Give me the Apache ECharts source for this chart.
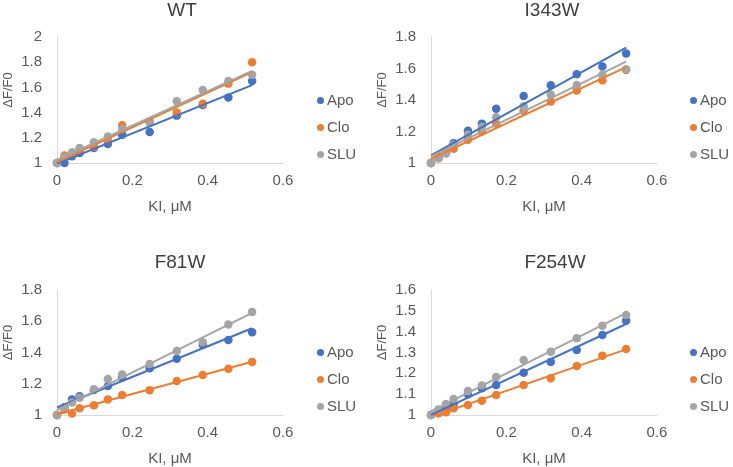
<!DOCTYPE html>
<html><head><meta charset="utf-8">
<script src="https://cdn.jsdelivr.net/npm/echarts@6/dist/echarts.min.js"></script>
<style>html,body{margin:0;padding:0;background:#fff}#c{width:733px;height:467px}</style>
</head><body><div id="c"></div>
<script>
// ---- data ----
const kiConc = [0, 0.02, 0.04, 0.06, 0.098, 0.135, 0.173, 0.246, 0.318, 0.387, 0.455, 0.518];
const seriesNames = ['Apo', 'Clo', 'SLU'];
const panelTitles = ['WT', 'I343W', 'F81W', 'F254W'];

const wtApo  = [1.0, 1.0, 1.053, 1.08, 1.12, 1.15, 1.225, 1.246, 1.376, 1.46, 1.52, 1.65];
const wtClo  = [1.0, 1.06, 1.07, 1.10, 1.13, 1.18, 1.30, 1.33, 1.40, 1.47, 1.63, 1.80];
const wtSlu  = [1.0, 1.045, 1.085, 1.12, 1.165, 1.21, 1.27, 1.32, 1.49, 1.58, 1.65, 1.70];

const i343Apo = [1.0, 1.04, 1.067, 1.126, 1.204, 1.25, 1.345, 1.425, 1.493, 1.564, 1.612, 1.695];
const i343Clo = [1.0, 1.03, 1.063, 1.09, 1.147, 1.20, 1.25, 1.33, 1.39, 1.46, 1.525, 1.59];
const i343Slu = [1.0, 1.03, 1.06, 1.116, 1.18, 1.23, 1.29, 1.36, 1.435, 1.495, 1.56, 1.595];

const f81Apo = [1.0, 1.05, 1.10, 1.12, 1.16, 1.185, 1.24, 1.30, 1.36, 1.45, 1.48, 1.53];
const f81Clo = [1.0, 1.035, 1.01, 1.043, 1.062, 1.10, 1.128, 1.158, 1.217, 1.256, 1.296, 1.34];
const f81Slu = [1.0, 1.047, 1.08, 1.11, 1.165, 1.23, 1.26, 1.326, 1.41, 1.465, 1.58, 1.66];

const f254Apo = [1.0, 1.01, 1.03, 1.05, 1.10, 1.128, 1.144, 1.203, 1.255, 1.312, 1.384, 1.452];
const f254Clo = [1.0, 1.008, 1.013, 1.032, 1.048, 1.069, 1.096, 1.144, 1.176, 1.235, 1.285, 1.317];
const f254Slu = [1.0, 1.027, 1.053, 1.077, 1.115, 1.142, 1.183, 1.264, 1.304, 1.368, 1.429, 1.48];

const yMins  = [1, 1, 1, 1];
const yMaxs  = [2, 1.8, 1.8, 1.6];
const ySteps = [0.2, 0.2, 0.2, 0.1];
const xTickLabels = ['0', '0.2', '0.4', '0.6'];

const panelData = [
  [wtApo, wtClo, wtSlu],
  [i343Apo, i343Clo, i343Slu],
  [f81Apo, f81Clo, f81Slu],
  [f254Apo, f254Clo, f254Slu]
];

// ---- layout / style ----
const colors = ['#4472C4', '#ED7D31', '#A5A5A5'];
const FONT = 'Liberation Sans, Arial, sans-serif';
const layout = [
  { left: 57,  top: 37,  w: 226, h: 126, titleX: 177, titleY: -4,  legL: 312, legT: 88 },
  { left: 431, top: 37,  w: 226, h: 126, titleX: 547, titleY: -4,  legL: 685, legT: 88 },
  { left: 57,  top: 290, w: 226, h: 125, titleX: 175, titleY: 248, legL: 312, legT: 340 },
  { left: 431, top: 290, w: 226, h: 125, titleX: 550, titleY: 248, legL: 685, legT: 340 }
];

function linFit(xs, ys) {
  const n = xs.length;
  let mx = 0, my = 0;
  for (let i = 0; i < n; i++) { mx += xs[i]; my += ys[i]; }
  mx /= n; my /= n;
  let sxy = 0, sxx = 0;
  for (let i = 0; i < n; i++) { sxy += (xs[i] - mx) * (ys[i] - my); sxx += (xs[i] - mx) * (xs[i] - mx); }
  const b = sxy / sxx, a = my - b * mx;
  const x0 = Math.min.apply(null, xs), x1 = Math.max.apply(null, xs);
  return [[x0, a + b * x0], [x1, a + b * x1]];
}

const grids = [], xAxes = [], yAxes = [], series = [], titles = [], legends = [];
layout.forEach((L, p) => {
  grids.push({ left: L.left, top: L.top, width: L.w, height: L.h, containLabel: false, outerBoundsMode: 'none' });
  titles.push({ text: panelTitles[p], left: L.titleX, top: L.titleY, textAlign: 'center',
    textStyle: { fontFamily: FONT, fontSize: 19, fontWeight: 'normal', color: '#404040' } });
  legends.push({ data: seriesNames, orient: 'vertical', left: L.legL, top: L.legT,
    icon: 'circle', itemWidth: 7, itemHeight: 7, itemGap: 12,
    textStyle: { fontFamily: FONT, fontSize: 15, color: '#595959', padding: [0, 0, 0, -2] } });
  xAxes.push({ gridIndex: p, type: 'value', min: 0, max: 0.6, interval: 0.2,
    name: 'KI, μM', nameLocation: 'middle', nameGap: 36,
    nameTextStyle: { fontFamily: FONT, fontSize: 15, color: '#595959' },
    axisLine: { show: true, lineStyle: { color: '#d9d9d9', width: 1 } },
    axisTick: { show: false }, splitLine: { show: false },
    axisLabel: { margin: 10, fontFamily: FONT, fontSize: 15, color: '#595959',
      formatter: v => xTickLabels[Math.round(v / 0.2)] } });
  yAxes.push({ gridIndex: p, type: 'value', min: yMins[p], max: yMaxs[p], interval: ySteps[p],
    name: 'ΔF/F0', nameLocation: 'middle', nameGap: 42, nameRotate: 90,
    nameTextStyle: { fontFamily: FONT, fontSize: 13, color: '#595959', padding: [0, 0, 0, 20] },
    axisLine: { show: true, lineStyle: { color: '#d9d9d9', width: 1 } },
    axisTick: { show: false }, splitLine: { show: false },
    axisLabel: { margin: 15, fontFamily: FONT, fontSize: 15, color: '#595959',
      formatter: v => String(+v.toFixed(1)) } });
  panelData[p].forEach((ys, s) => {
    series.push({ type: 'scatter', name: seriesNames[s], xAxisIndex: p, yAxisIndex: p,
      symbol: 'circle', symbolSize: 8.5, itemStyle: { color: colors[s], opacity: 1 },
      data: kiConc.map((x, i) => [x, ys[i]]), z: 2 });
  });
  panelData[p].forEach((ys, s) => {
    series.push({ type: 'line', name: seriesNames[s] + ' trend', xAxisIndex: p, yAxisIndex: p,
      showSymbol: false, silent: true, lineStyle: { color: colors[s], width: 2 },
      data: linFit(kiConc, ys), z: 3 });
  });
});

const chart = echarts.init(document.getElementById('c'), null, { renderer: 'canvas' });
chart.setOption({
  animation: false,
  backgroundColor: '#fff',
  textStyle: { fontFamily: FONT },
  title: titles, legend: legends, grid: grids, xAxis: xAxes, yAxis: yAxes, series: series
});
</script></body></html>
